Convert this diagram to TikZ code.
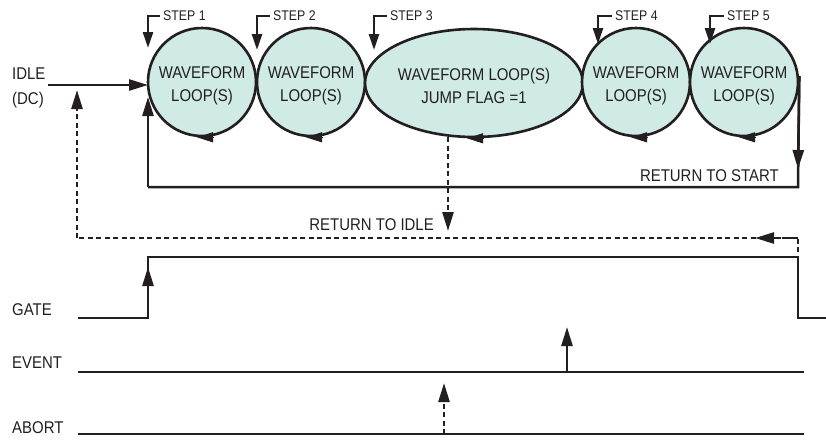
\documentclass[tikz,border=0pt]{standalone}
\usepackage{fontspec}
\setmainfont{Liberation Sans}[FakeStretch=0.88]
\usetikzlibrary{arrows.meta,shapes.geometric}
\definecolor{loopfill}{RGB}{208,234,229}
\definecolor{ink}{RGB}{35,31,32}
\tikzset{
  x=1pt, y=-1pt,
  wf/.style={circle, draw=ink, line width=2.6pt, fill=loopfill, minimum size=108pt, inner sep=0pt},
  wfe/.style={ellipse, draw=ink, line width=2.6pt, fill=loopfill, minimum width=218pt, minimum height=108pt, inner sep=0pt},
  wftext/.style={inner sep=0pt, align=center, font=\fontsize{17}{23}\selectfont, text=ink},
  lbl/.style={inner sep=0pt, font=\fontsize{17}{25}\selectfont, text=ink, align=left},
  steplbl/.style={inner sep=0pt, font=\fontsize{14}{16}\selectfont, text=ink, anchor=west},
  wire/.style={draw=ink, line width=2.5pt},
  arr/.style={wire, -{Triangle[length=19pt,width=11pt]}},
  dwire/.style={wire, dash pattern=on 5pt off 3.5pt},
  darr/.style={dwire, -{Triangle[length=19pt,width=11pt]}},
  looparr/.style={draw=ink, line width=1pt, -{Triangle[length=16pt,width=10pt]}},
}
\begin{document}
\begin{tikzpicture}
\useasboundingbox (0,0) rectangle (826,440);
% loops
\node[wf] (c1) at (202,82) {};
\node[wf] (c2) at (311,82) {};
\node[wfe] (c3) at (474,83) {};
\node[wf] (c4) at (636,82) {};
\node[wf] (c5) at (744,82) {};
\node[wftext] (c1t) at (202,86) {WAVEFORM\\LOOP(S)};
\node[wftext] (c2t) at (311,86) {WAVEFORM\\LOOP(S)};
\node[wftext] (c3t) at (474,86) {WAVEFORM LOOP(S)\\JUMP FLAG =1};
\node[wftext] (c4t) at (636,86) {WAVEFORM\\LOOP(S)};
\node[wftext] (c5t) at (744,86) {WAVEFORM\\LOOP(S)};
% loop arrowheads at bottoms
\foreach \n/\b/\t in {c1/12/-5, c2/12/-5, c3/10/-7, c4/12/-5, c5/12/-5} {
  \draw[looparr] ([xshift=\b pt]\n.south) -- ([xshift=\t pt]\n.south);
}
% step labels
\node[steplbl] (s1) at (163,16) {STEP 1};
\node[steplbl] (s2) at (273,16) {STEP 2};
\node[steplbl] (s3) at (390,16) {STEP 3};
\node[steplbl] (s4) at (615,16) {STEP 4};
\node[steplbl] (s5) at (727,16) {STEP 5};
\coordinate (t1) at (148,48);
\coordinate (t2) at (257,50);
\coordinate (t3) at (374,50);
\coordinate (t4) at (598,44);
\coordinate (t5) at (710,44);
\foreach \i in {1,...,5} {
  \draw[wire, -{Triangle[length=16pt,width=10pt]}] ([xshift=-3pt]s\i.west) -| (t\i);
}
% idle input
\node[lbl] (idle) at (12,88) [anchor=west] {IDLE\\(DC)};
\coordinate (idlein) at (48,85);
\coordinate (c1in) at (148,85);
\draw[arr] (idlein) -- (c1in);
% return to start
\coordinate (rsA) at (798,169);
\coordinate (rsR) at (798,187);
\coordinate (rsL) at (148,187);
\coordinate (rsEnd) at (148,97);
\draw[wire] ([yshift=6pt]c5.east) -- (rsR) -- (rsL);
\draw[arr] ([yshift=6pt]c5.east) -- (rsA);
\draw[arr] (rsL) -- (rsEnd);
\node[lbl, anchor=east] (rts) at (779,176) {RETURN TO START};
% return to idle
\coordinate (rtiTop) at (448,137);
\coordinate (rtiTip) at (448,231);
\draw[darr] (rtiTop) -- (rtiTip);
\node[lbl, anchor=east] (rti) at (434,225) {RETURN TO IDLE};
\coordinate (riA) at (798,252);
\coordinate (riB) at (798,238);
\coordinate (riM) at (755,238);
\coordinate (riC) at (77,238);
\coordinate (riTip) at (77,90);
\draw[dwire] (riB) -- (riC);
\draw[darr] (riA) -- (riB) -- (riM);
\draw[darr] (riC) -- (riTip);
% gate
\node[lbl, anchor=west] (gate) at (12,310) {GATE};
\coordinate (g0) at (78,318);
\coordinate (g1) at (148,318);
\coordinate (g2) at (148,257);
\coordinate (gA) at (148,267);
\coordinate (g3) at (798,257);
\coordinate (g4) at (798,318);
\coordinate (g5) at (826,318);
\draw[wire] (g0) -- (g1) -- (g2) -- (g3) -- (g4) -- (g5);
\draw[arr] (g1) -- (gA);
% event
\node[lbl, anchor=west] (event) at (12,363) {EVENT};
\coordinate (e0) at (78,372);
\coordinate (e1) at (804,372);
\coordinate (eB) at (567,372);
\coordinate (eT) at (567,327);
\draw[wire] (e0) -- (e1);
\draw[arr] (eB) -- (eT);
% abort
\node[lbl, anchor=west] (abort) at (12,428) {ABORT};
\coordinate (a0) at (78,434);
\coordinate (a1) at (804,434);
\coordinate (aB) at (444,434);
\coordinate (aT) at (444,383);
\draw[wire] (a0) -- (a1);
\draw[darr] (aB) -- (aT);
\end{tikzpicture}
\end{document}
